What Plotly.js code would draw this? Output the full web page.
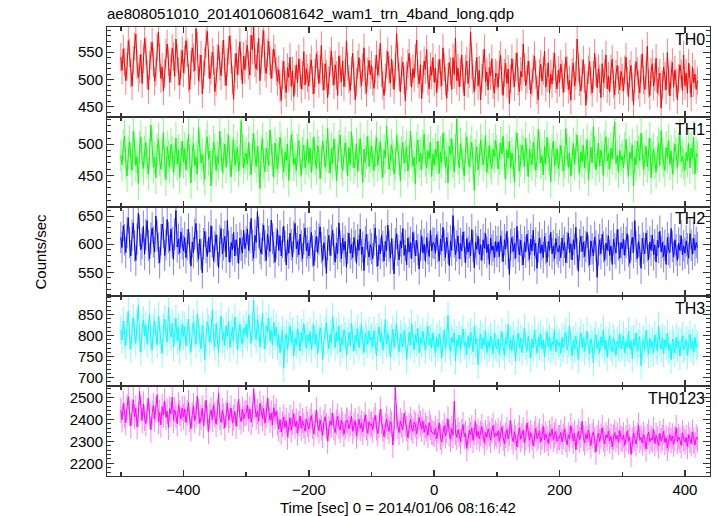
<!DOCTYPE html>
<html><head><meta charset="utf-8">
<script src="https://cdn.plot.ly/plotly-3.0.1.min.js"></script>
<style>html,body{margin:0;padding:0;background:#fff}#c{width:717px;height:516px}</style>
</head><body><div id="c"></div>
<script>
// Light curve bins: start time and bin width (s)
const TSTART = -500, TBIN = 2;
const panelNames = ["TH0","TH1","TH2","TH3","TH0123"];
const colors = ["#ff0000","#00ff00","#0000ff","#00ffff","#ff00ff"];
const errColors = ["rgba(255,0,0,0.5)","rgba(0,255,0,0.5)","rgba(0,0,255,0.5)","rgba(0,255,255,0.5)","rgba(255,0,255,0.5)"];
const errVals = [26, 26, 28, 33, 58];
const yRanges = [[432,596],[400,544],[507,667],[679,893],[2142,2551]];
const yTicks = [[450,500,550],[450,500],[550,600,650],[700,750,800,850],[2200,2300,2400,2500]];
const yMinor = [10,10,10,10,20];
const xTickVals = [-400,-200,0,200,400];

const th0 = [
541,517,556,532,498,524,571,549,512,488,535,560,583,527,504,519,546,493,538,575,552,509,481,526,544,
568,531,497,514,559,587,540,502,523,479,511,548,565,533,495,520,557,542,506,574,539,515,490,529,553,
512,536,571,549,503,482,527,558,540,516,593,561,498,520,545,474,509,533,566,588,529,501,517,550,535,
478,496,539,562,524,507,546,572,515,489,531,553,580,537,499,464,521,548,509,534,569,525,492,543,518,
547,563,526,508,581,554,596,531,519,542,575,498,537,566,589,523,511,548,570,534,502,528,556,539,515,
497,518,485,462,509,533,491,476,522,504,541,487,516,469,500,527,494,538,512,483,507,551,490,520,503,
488,521,536,499,474,512,547,526,493,518,562,505,481,529,510,467,498,533,552,515,490,527,508,471,543,
519,496,534,487,512,571,523,501,480,516,548,506,463,495,527,540,511,489,522,558,498,476,514,535,509,
526,497,484,519,545,508,530,566,512,489,471,503,528,551,517,494,537,509,482,523,584,541,505,478,516,
532,499,461,507,529,548,514,486,520,503,539,572,511,492,527,465,501,534,518,555,497,483,524,508,540,
495,521,476,508,537,512,489,558,523,497,466,504,531,515,482,540,509,576,498,521,487,513,545,502,470,
519,534,493,511,587,526,500,478,509,541,488,517,463,503,529,556,496,514,481,522,507,538,490,475,512,
508,486,527,544,499,471,512,530,493,519,456,502,538,511,487,523,549,497,478,515,505,565,522,489,501,
534,507,474,495,520,543,509,481,463,512,528,497,516,552,486,503,531,475,510,492,524,548,501,483,517,
495,528,509,476,503,541,517,482,499,462,513,530,488,507,574,521,496,479,511,536,502,453,489,518,533,
497,476,508,548,514,485,520,501,467,529,494,511,545,483,506,478,519,537,492,472,510,526,499,481,515,
503,479,518,541,497,468,510,526,487,454,502,533,515,491,476,520,547,499,482,508,561,493,471,514,529,
488,505,539,476,497,512,448,490,523,506,481,549,498,470,509,531,486,517,494,463,502,527,511,480,545,
489,512,475,530,501,468,523,494,510,482,498];
const th1 = [
482,467,498,513,471,449,486,504,477,458,521,493,466,480,437,495,512,474,461,488,503,470,452,484,531,
497,463,479,446,491,508,475,460,485,519,472,443,496,481,464,500,487,455,476,510,468,490,447,478,505,
471,493,459,482,516,474,438,488,501,466,479,452,527,495,470,483,461,444,498,512,476,489,433,467,504,
491,458,480,469,521,486,455,477,500,463,492,514,472,448,485,507,466,481,495,457,474,538,489,462,479,
486,468,503,475,451,492,517,480,464,497,473,429,488,509,470,456,494,481,466,523,490,475,447,502,484,
461,479,511,493,469,455,487,474,500,442,481,515,496,467,478,458,491,506,473,450,486,499,462,477,508,
470,494,455,483,512,476,461,498,487,445,472,505,490,463,481,526,478,454,493,469,508,484,441,476,497,
515,470,458,486,502,479,449,495,467,520,488,462,474,501,456,483,509,477,439,492,471,486,513,464,480,
497,473,458,489,511,466,482,504,470,447,491,478,529,486,460,475,499,483,452,468,514,492,476,441,487,
503,469,481,496,457,473,521,488,465,479,436,494,507,472,485,459,498,516,474,462,490,477,503,448,484,
466,492,479,505,453,487,471,518,495,463,480,438,497,484,509,472,456,490,541,476,462,501,485,469,449,
493,512,478,464,488,503,471,426,482,496,459,475,507,490,467,483,514,455,477,498,470,461,492,480,506,
489,460,477,502,484,513,469,445,491,478,505,463,486,472,439,496,518,480,457,474,499,488,464,510,475,
448,492,481,467,503,486,458,473,524,494,470,482,451,497,468,511,483,476,440,490,505,466,479,493,461,
474,498,482,457,471,525,490,463,486,449,479,501,468,493,515,476,454,488,472,499,462,484,507,443,480,
495,470,528,487,459,476,502,465,491,478,450,496,512,473,485,460,494,477,503,536,469,482,455,490,475,
481,462,494,508,471,450,487,476,499,433,480,467,505,488,474,518,491,459,476,497,464,483,510,446,479,
492,470,455,487,501,466,522,484,473,458,495,479,506,468,489,452,477,500,485,463,493,514,472,481,469,
458,487,473,501,462,494,478,511,452,485,480];
const th2 = [
612,594,633,608,585,621,647,603,579,616,638,597,571,609,655,624,590,601,632,582,617,642,598,574,611,
629,604,586,650,615,593,567,608,636,621,580,599,644,612,588,627,603,573,618,660,595,609,584,622,601,
588,612,576,599,627,593,561,604,585,618,637,596,573,609,582,549,601,623,594,578,612,586,633,604,570,
595,617,589,558,606,628,583,599,614,577,642,596,568,603,590,621,579,608,594,566,611,598,584,625,592,
604,627,589,612,646,598,575,616,603,658,621,592,583,609,634,597,571,618,605,587,643,610,594,568,601,
626,589,615,579,603,632,596,563,608,584,620,599,577,613,637,592,605,581,618,597,574,609,629,588,602,
579,603,621,588,562,597,614,585,609,631,594,571,603,587,548,599,616,580,607,625,591,568,602,583,638,
596,574,611,589,605,559,593,620,584,600,576,612,597,566,608,589,627,581,595,553,604,618,590,577,599,
592,574,608,629,587,561,599,583,616,596,570,605,588,634,597,575,610,582,547,601,619,589,572,606,593,
628,580,598,563,611,586,603,574,621,595,579,607,590,556,598,615,584,600,569,612,592,578,625,588,603,
601,584,617,595,570,609,588,630,598,576,612,593,562,606,589,651,604,581,597,615,574,601,588,622,595,
567,610,586,603,579,626,597,558,604,591,614,582,599,571,608,593,619,585,600,564,611,589,597,576,605,
587,604,578,615,596,569,608,591,623,584,546,599,612,587,601,575,632,596,581,607,590,563,604,586,618,
597,573,609,588,625,580,602,557,595,611,584,599,576,614,592,568,605,589,621,583,597,574,610,592,586,
598,576,611,589,603,567,594,620,585,601,572,608,591,630,583,552,599,614,587,604,578,596,621,588,563,
606,592,579,613,597,541,590,608,583,618,595,571,602,589,615,580,597,564,609,592,584,626,599,575,603,
592,609,580,603,619,588,566,598,612,585,642,596,574,605,590,557,611,593,583,620,597,572,604,589,616,
581,599,568,607,594,623,586,603,578,598,564,612,591,585,628,596,577,608,590,571,602,589,615,581,597,
584,606,592,575,619,598,582,611,589,603,594];
const th3 = [
812,789,834,801,776,823,858,797,768,815,842,806,781,829,873,794,760,818,837,799,825,780,808,851,790,
765,817,833,802,778,846,812,791,757,820,839,805,784,867,813,796,829,772,808,841,787,819,763,804,826,
798,821,775,806,839,788,761,815,830,802,779,852,811,793,768,824,805,742,797,833,816,784,809,861,796,
773,828,801,758,812,846,789,807,776,823,798,834,771,805,819,787,844,812,765,801,826,794,779,817,803,
826,795,849,813,781,822,884,806,790,838,817,772,805,853,799,768,823,809,841,786,812,777,831,798,820,
774,801,759,790,813,722,788,805,766,797,822,783,810,751,794,778,816,799,763,807,785,828,792,770,801,
784,809,767,798,825,779,803,756,791,818,797,742,785,812,831,790,768,804,782,845,797,771,809,786,823,
760,795,778,814,799,752,788,807,775,829,793,763,801,785,816,771,798,824,787,759,806,792,779,811,789,
796,773,812,788,751,797,821,784,806,765,792,838,779,803,786,748,794,815,772,799,826,783,761,804,790,
773,812,795,742,787,808,777,829,791,766,802,784,817,759,795,781,810,788,765,798,822,776,793,770,806,
781,759,795,772,804,788,746,783,812,769,791,848,777,762,796,783,806,740,789,774,801,767,792,816,775,
784,754,799,771,808,786,761,823,779,792,730,785,803,768,794,776,812,759,787,771,798,782,757,805,776,
768,792,756,781,809,774,752,795,778,826,767,789,763,801,782,739,788,806,771,794,759,784,817,775,762,
798,779,746,791,770,812,783,757,796,774,803,768,789,750,781,808,772,795,764,786,777,815,761,790,775,
783,757,796,770,792,808,765,781,823,774,751,789,768,799,776,743,787,806,771,794,762,781,810,773,756,
792,779,735,788,802,769,784,758,797,775,815,766,789,748,783,799,772,761,794,780,753,787,771,804,768,
776,799,758,785,771,810,767,788,745,792,776,806,762,781,797,728,774,790,766,812,779,755,793,771,786,
759,801,775,763,824,782,768,795,757,789,773,805,764,780,742,791,777,758,796,770,788,751,783,799,766,
774,790,752,781,803,768,786,761,795,772,779];
const th0123 = [
2441,2398,2472,2419,2385,2456,2503,2427,2370,2434,2489,2412,2451,2366,2423,2527,2448,2395,2470,2406,2381,2439,2496,2417,2352,
2428,2463,2401,2445,2512,2390,2431,2375,2458,2420,2484,2409,2437,2363,2449,2425,2501,2396,2443,2418,2380,2466,2429,2402,2451,
2412,2447,2385,2430,2476,2401,2358,2423,2462,2394,2419,2505,2437,2382,2410,2451,2371,2426,2488,2403,2345,2415,2443,2399,2467,
2420,2378,2432,2521,2409,2386,2440,2413,2361,2428,2474,2396,2418,2452,2383,2407,2437,2369,2423,2492,2411,2390,2446,2401,2425,
2431,2465,2402,2448,2387,2422,2538,2459,2410,2436,2391,2473,2427,2404,2450,2382,2419,2497,2441,2396,2428,2375,2453,2412,2437,
2384,2356,2399,2342,2378,2411,2363,2395,2320,2372,2408,2351,2388,2426,2367,2392,2338,2381,2415,2359,2394,2371,2346,2402,2378,
2355,2392,2417,2368,2334,2381,2443,2375,2349,2398,2361,2327,2386,2412,2370,2301,2358,2393,2374,2429,2362,2340,2387,2415,2369,
2351,2396,2378,2332,2366,2397,2391,2357,2380,2414,2346,2373,2395,2324,2368,2401,2359,2384,2343,2376,2420,2364,2337,2389,2372,
2380,2352,2397,2418,2361,2335,2374,2446,2389,2357,2321,2370,2402,2366,2345,2391,2378,2283,2360,2547,2412,2369,2340,2393,2374,
2352,2428,2381,2359,2317,2371,2398,2362,2346,2387,2375,2334,2367,2409,2380,2355,2392,2341,2373,2359,2326,2385,2364,2342,2338,
2331,2359,2312,2345,2384,2320,2297,2338,2371,2325,2349,2402,2336,2310,2358,2327,2482,2341,2318,2353,2332,2299,2344,2376,2322,
2337,2268,2315,2350,2329,2361,2304,2339,2389,2321,2346,2312,2335,2367,2326,2294,2340,2318,2357,2333,2305,2348,2372,2320,2338,
2324,2348,2301,2333,2367,2315,2289,2328,2354,2311,2337,2395,2320,2298,2343,2316,2274,2330,2361,2309,2326,2351,2293,2318,2384,
2331,2305,2340,2317,2279,2335,2358,2312,2325,2347,2296,2321,2368,2306,2334,2313,2290,2339,2322,2356,2308,2329,2345,2300,2318,
2316,2341,2297,2323,2356,2309,2284,2330,2312,2371,2325,2301,2338,2262,2319,2345,2306,2328,2391,2314,2293,2334,2311,2352,2320,
2281,2326,2343,2307,2251,2317,2337,2299,2324,2362,2312,2288,2330,2315,2347,2302,2323,2275,2318,2340,2309,2327,2296,2349,2314,
2308,2329,2282,2314,2347,2301,2320,2240,2305,2336,2312,2288,2325,2373,2304,2318,2292,2331,2310,2265,2321,2342,2298,2315,2306,
2354,2289,2327,2311,2279,2336,2302,2319,2345,2295,2316,2269,2308,2330,2301,2324,2287,2313,2362,2299,2320,2306,2281,2339,2311,
2296,2318,2277,2330,2305,2289,2342,2301,2283,2320,2307];

const series = [th0, th1, th2, th3, th0123];
const FONT = "Liberation Sans, Arial, Helvetica, sans-serif";
const traces = [];
const layout = {
  width: 717, height: 516,
  margin: {l: 107, r: 7, t: 27, b: 40},
  paper_bgcolor: "#fff", plot_bgcolor: "#fff",
  showlegend: false, hovermode: false,
  font: {family: FONT, size: 15, color: "#000"},
  title: {text: "ae808051010_20140106081642_wam1_trn_4band_long.qdp",
          x: 107/717, xanchor: "left", xref: "container",
          y: 1 - 14/516, yanchor: "middle", yref: "container",
          font: {family: FONT, size: 15, color: "#000"}},
  annotations: []
};
const N = 5;
for (let k = 0; k < N; k++) {
  const ys = series[k];
  const xs = ys.map((_, i) => TSTART + i * TBIN);
  const sfx = k === 0 ? "" : String(k + 1);
  traces.push({
    type: "scatter", mode: "lines", x: xs, y: ys,
    xaxis: "x" + sfx, yaxis: "y" + sfx,
    line: {color: colors[k], width: 1},
    error_y: {type: "constant", value: errVals[k], color: errColors[k], thickness: 1, width: 0}
  });
  const top = 1 - k / N, bot = 1 - (k + 1) / N;
  layout["xaxis" + sfx] = {
    domain: [0, 1], anchor: "y" + sfx, range: [-522, 440],
    matches: k === 0 ? undefined : "x",
    showgrid: false, zeroline: false,
    showline: true, linecolor: "#333", linewidth: 1, mirror: "ticks",
    ticks: "inside", ticklen: 6, tickwidth: 1.5, tickcolor: "#333",
    tickvals: xTickVals,
    ticktext: xTickVals.map(v => v < 0 ? "\u2212" + Math.abs(v) : String(v)),
    showticklabels: k === N - 1,
    tickfont: {family: FONT, size: 15, color: "#000"},
    minor: {dtick: 100, tick0: 0, ticks: "inside", ticklen: 4, tickcolor: "#333", showgrid: false}
  };
  layout["yaxis" + sfx] = {
    domain: [bot, top], anchor: "x" + sfx, range: yRanges[k],
    showgrid: false, zeroline: false,
    showline: true, linecolor: "#333", linewidth: 1, mirror: "ticks",
    ticks: "inside", ticklen: 7, tickwidth: 1, tickcolor: "#333",
    tickvals: yTicks[k], ticktext: yTicks[k].map(String),
    tickfont: {family: FONT, size: 15, color: "#000"},
    minor: {dtick: yMinor[k], tick0: 0, ticks: "inside", ticklen: 4, tickcolor: "#333", showgrid: false}
  };
  layout.annotations.push({
    text: panelNames[k], xref: "paper", yref: "paper",
    x: 0.995, y: top - 0.004, xanchor: "right", yanchor: "top", showarrow: false,
    font: {family: FONT, size: 16, color: "#000"}
  });
}
layout.annotations.push({
  text: "Counts/sec", xref: "paper", yref: "paper", x: (40 - 107) / 603, y: 0.5,
  textangle: -90, showarrow: false, xanchor: "center", yanchor: "middle",
  font: {family: FONT, size: 15, color: "#000"}
});
layout.annotations.push({
  text: "Time [sec] 0 = 2014/01/06 08:16:42", xref: "paper", yref: "paper",
  x: (398 - 107) / 603, y: -(507 - 476) / 449, xanchor: "center", yanchor: "middle", showarrow: false,
  font: {family: FONT, size: 15, color: "#000"}
});
Plotly.newPlot("c", traces, layout, {staticPlot: true, displayModeBar: false});
</script></body></html>
